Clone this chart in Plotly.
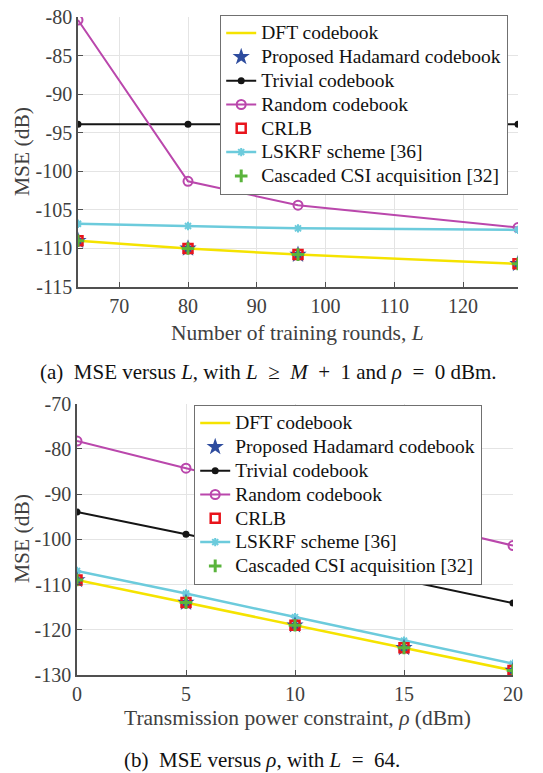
import plotly.graph_objects as go

# ---------------- data: (a) MSE versus L ----------------
L_vals = [64, 80, 96, 128]
a_dft = [-109.0, -110.0, -110.8, -112.0]
a_hadamard = [-109.0, -110.0, -110.8, -112.0]
a_trivial = [-93.9, -93.9, -93.9, -93.9]
a_random = [-80.4, -101.3, -104.4, -107.3]
a_crlb = [-109.0, -110.0, -110.8, -112.0]
a_lskrf = [-106.8, -107.1, -107.4, -107.6]
a_cascaded = [-109.0, -110.0, -110.8, -112.0]

a_xticks = [70, 80, 90, 100, 110, 120]
a_xticklabels = ["70", "80", "90", "100", "110", "120"]
a_yticks = [-115, -110, -105, -100, -95, -90, -85, -80]
a_yticklabels = ["-115", "-110", "-105", "-100", "-95", "-90", "-85", "-80"]

# ---------------- data: (b) MSE versus rho ----------------
rho_vals = [0, 5, 10, 15, 20]
b_dft = [-109.0, -114.0, -119.0, -124.0, -129.0]
b_hadamard = [-109.0, -114.0, -119.0, -124.0, -129.0]
b_trivial = [-94.0, -98.9, -104.0, -109.0, -114.1]
b_random = [-78.3, -84.3, -90.0, -95.7, -101.4]
b_crlb = [-109.0, -114.0, -119.0, -124.0, -129.0]
b_lskrf = [-107.0, -112.0, -117.2, -122.4, -127.5]
b_cascaded = [-109.0, -114.0, -119.0, -124.0, -129.0]

b_xticks = [0, 5, 10, 15, 20]
b_xticklabels = ["0", "5", "10", "15", "20"]
b_yticks = [-130, -120, -110, -100, -90, -80, -70]
b_yticklabels = ["-130", "-120", "-110", "-100", "-90", "-80", "-70"]

names = ["DFT codebook", "Proposed Hadamard codebook", "Trivial codebook",
         "Random codebook", "CRLB", "LSKRF scheme [36]",
         "Cascaded CSI acquisition [32]"]

# ---------------- styles ----------------
YELLOW = "#F5E300"
BLUE = "#2E4C9E"
BLACK = "#151515"
MAGENTA = "#BA47AC"
RED = "#E8141C"
CYAN = "#6CCBDC"
GREEN = "#5AB43C"
FONT = "Liberation Serif, Times New Roman, serif"
OFF = 0
W, H = 543, 773

fig = go.Figure()


def lab(s):
    return '<span style="font-size:19.5px">' + s + '</span>'


def add_set(x, dft, had, triv, rnd, crlb, lsk, casc, xa, ya, leg):
    common = dict(xaxis=xa, yaxis=ya, legend=leg)
    fig.add_trace(go.Scatter(x=x, y=dft, mode="lines", name=lab(names[0]), legendrank=0,
                             line=dict(color=YELLOW, width=2.5), **common))
    fig.add_trace(go.Scatter(x=x, y=triv, mode="lines+markers", name=lab(names[2]), legendrank=2,
                             line=dict(color=BLACK, width=2),
                             marker=dict(symbol="circle", size=7, color=BLACK), **common))
    fig.add_trace(go.Scatter(x=x, y=rnd, mode="lines+markers", name=lab(names[3]), legendrank=3,
                             line=dict(color=MAGENTA, width=2),
                             marker=dict(symbol="circle-open", size=9, color=MAGENTA,
                                         line=dict(width=2, color=MAGENTA)), **common))
    fig.add_trace(go.Scatter(x=x, y=lsk, mode="lines+markers", name=lab(names[5]), legendrank=5,
                             line=dict(color=CYAN, width=2.5),
                             marker=dict(symbol="asterisk-open", size=7, color=CYAN,
                                         line=dict(width=2, color=CYAN)), **common))
    fig.add_trace(go.Scatter(x=x, y=had, mode="markers", name=lab(names[1]), legendrank=1,
                             marker=dict(symbol="star", size=13, color=BLUE), **common))
    fig.add_trace(go.Scatter(x=x, y=crlb, mode="markers", name=lab(names[4]), legendrank=4,
                             marker=dict(symbol="square-open", size=9, color=RED,
                                         line=dict(width=2.5, color=RED)), **common))
    fig.add_trace(go.Scatter(x=x, y=casc, mode="markers", name=lab(names[6]), legendrank=6,
                             marker=dict(symbol="cross-thin-open", size=9, color=GREEN,
                                         line=dict(width=3, color=GREEN)), **common))


add_set(L_vals, a_dft, a_hadamard, a_trivial, a_random, a_crlb, a_lskrf, a_cascaded,
        "x", "y", "legend")
add_set(rho_vals, b_dft, b_hadamard, b_trivial, b_random, b_crlb, b_lskrf, b_cascaded,
        "x2", "y2", "legend2")

axis_common = dict(showgrid=True, gridcolor="#E4E4E4", gridwidth=1,
                   showline=True, linecolor="#505050", linewidth=1.5,
                   ticks="inside", ticklen=5, tickcolor="#505050", mirror=False,
                   zeroline=False, automargin=False, ticklabeloverflow="allow",
                   tickfont=dict(family=FONT, size=20, color="#404040"))


def px_x(p):
    return (p - OFF) / W


def px_y(p):
    return 1 - (p - OFF) / H


legend_common = dict(font=dict(family=FONT, size=16, color="#111111"),
                     bgcolor="white", bordercolor="#707070", borderwidth=1.2,
                     xanchor="left", yanchor="top", tracegroupgap=0,
                     itemwidth=30)

fig.update_layout(
    width=W, height=H,
    font=dict(family=FONT, size=20, color="#404040"),
    margin=dict(l=0, r=0, t=0, b=0, pad=0, autoexpand=False),
    paper_bgcolor="white", plot_bgcolor="white",
    showlegend=True,
    xaxis=dict(domain=[px_x(78), px_x(518)], range=[64, 128], anchor="y",
               tickvals=a_xticks, ticktext=a_xticklabels, **axis_common),
    yaxis=dict(domain=[px_y(287), px_y(17)], range=[-115, -80], anchor="x",
               tickvals=a_yticks, ticktext=a_yticklabels, **axis_common),
    xaxis2=dict(domain=[px_x(77), px_x(513)], range=[0, 20], anchor="y2",
                tickvals=b_xticks, ticktext=b_xticklabels, **axis_common),
    yaxis2=dict(domain=[px_y(675), px_y(403.5)], range=[-130, -70], anchor="x2",
                tickvals=b_yticks, ticktext=b_yticklabels, **axis_common),
    legend=dict(x=px_x(220), y=px_y(15), **legend_common),
    legend2=dict(x=px_x(194), y=px_y(405), **legend_common),
)

title_font = dict(family=FONT, size=21.5, color="#404040")
cap_font = dict(family=FONT, size=21, color="#111111")
sp = "\u2002"
annots = [
    dict(text="MSE (dB)", x=px_x(22), y=px_y(152), textangle=-90, font=title_font),
    dict(text="Number of training rounds, <i>L</i>", x=px_x(297), y=px_y(333), font=title_font),
    dict(text="(a)" + sp + "MSE versus <i>L</i>, with <i>L</i>" + sp + "≥" + sp + "<i>M</i>" + sp
              + "+" + sp + "1 and <i>ρ</i>" + sp + "=" + sp + "0 dBm.",
         x=px_x(268), y=px_y(372), font=cap_font),
    dict(text="MSE (dB)", x=px_x(22), y=px_y(539), textangle=-90, font=title_font),
    dict(text="Transmission power constraint, <i>ρ</i> (dBm)", x=px_x(297), y=px_y(718), font=title_font),
    dict(text="(b)" + sp + "MSE versus <i>ρ</i>, with <i>L</i>" + sp + "=" + sp + "64.",
         x=px_x(262), y=px_y(760), font=cap_font),
]
for a in annots:
    a.update(xref="paper", yref="paper", showarrow=False, xanchor="center", yanchor="middle")
fig.update_layout(annotations=annots)

fig.write_html("out.html", config={"displayModeBar": False},
               post_script="document.body.style.margin='0';document.body.style.overflow='hidden';")
